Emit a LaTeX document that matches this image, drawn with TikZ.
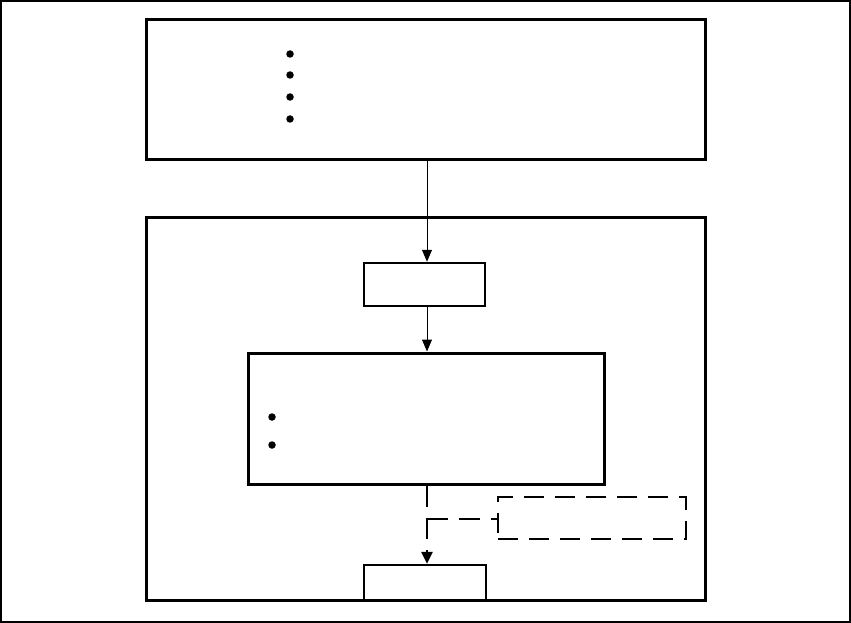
\documentclass[tikz,border=0pt]{standalone}
\usetikzlibrary{arrows.meta}
\begin{document}
\begin{tikzpicture}[x=1pt,y=-1pt,
  box/.style={draw=black,line width=3pt,inner sep=0pt,minimum width=#1},
  thinbox/.style={draw=black,line width=2.5pt,inner sep=0pt},
  dbox/.style={draw=black,line width=2.5pt,dash pattern=on 20pt off 11pt,inner sep=0pt},
  bul/.style={circle,fill=black,inner sep=0pt,minimum size=7.5pt},
  arr/.style={-{Triangle[length=12pt,width=10pt]},line width=1pt},
  darr/.style={-{Triangle[length=12pt,width=11pt]},line width=2.5pt,dash pattern=on 21pt off 11pt},
  dline/.style={line width=2.5pt,dash pattern=on 21pt off 11pt}]
\useasboundingbox (0,0) rectangle (851,623);
\draw[line width=2pt] (1,1) rectangle (850,622);
% top box
\node[box=0pt,minimum width=559pt,minimum height=139pt] (top) at (425.5,89.5) {};
\foreach \i/\y in {1/54,2/75,3/97,4/119}{\node[bul] (tb\i) at (290,\y) {};}
% outer lower box
\draw[line width=3pt] (146,217) rectangle (705,600);
\node[thinbox,minimum width=121pt,minimum height=43pt] (small) at (424.5,284.5) {};
\node[box=356pt,minimum height=131pt] (mid) at (426,418.5) {};
\foreach \i/\y in {1/417,2/445}{\node[bul] (mb\i) at (272,\y) {};}
\node[dbox,minimum width=188pt,minimum height=42pt] (dash) at (592,518) {};
\node[thinbox,minimum width=122pt,minimum height=36pt] (bot) at (425,583) {};
\coordinate (j) at (427,519);
\draw[arr] (top.south -| 427,0) -- (small.north -| 427,0);
\draw[arr] (small.south -| 427,0) -- (mid.north -| 427,0);
\draw[darr] (mid.south -| 427,0) -- (bot.north -| 427,0);
\draw[dline] (j) -- (dash.west |- j);
\end{tikzpicture}
\end{document}
